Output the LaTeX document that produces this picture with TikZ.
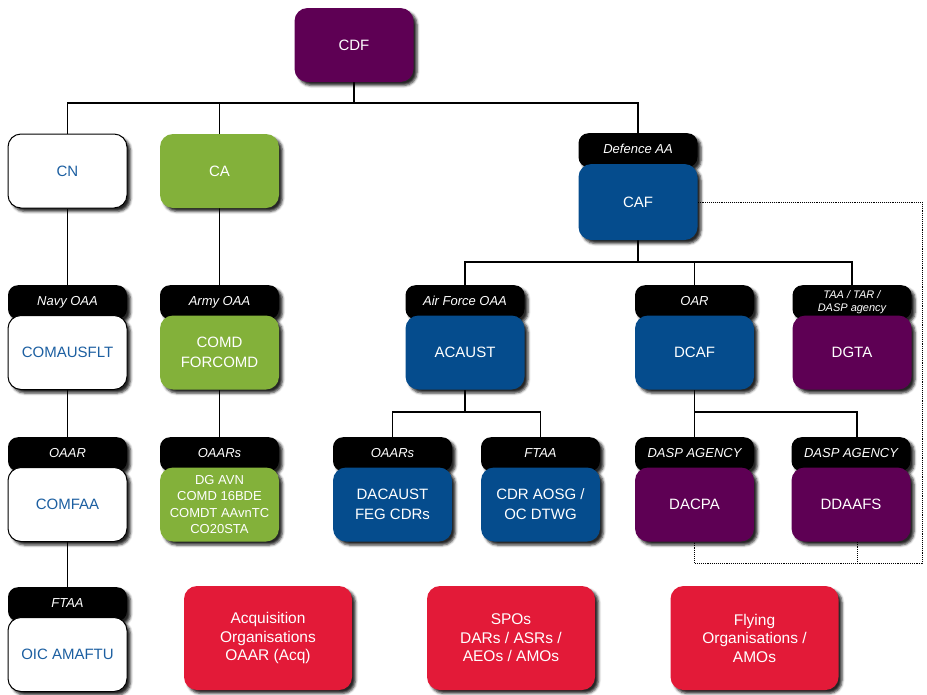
\documentclass[tikz,border=0pt]{standalone}
\usepackage{fontspec}
\setmainfont{Liberation Sans}
\usetikzlibrary{shadows.blur,backgrounds}
\definecolor{cdfpurple}{HTML}{5E0054}
\definecolor{rafblue}{HTML}{054C8D}
\definecolor{armygreen}{HTML}{83B13A}
\definecolor{acqred}{HTML}{E31A38}
\definecolor{navytext}{HTML}{1C5FA1}
\tikzset{
    orgbox/.style={
        rounded corners=13pt,
        minimum width=119pt,
        minimum height=74pt,
        align=center,
        text=white,
        font=\fontsize{15}{20}\selectfont,
        blur shadow={shadow xshift=3.5pt, shadow yshift=-3.5pt, shadow blur radius=2.5pt, shadow opacity=85}
    },
    purplebox/.style={orgbox, fill=cdfpurple},
    bluebox/.style={orgbox, fill=rafblue},
    greenbox/.style={orgbox, fill=armygreen},
    whitebox/.style={orgbox, fill=white, draw=black, line width=1pt, text=navytext},
    redbox/.style={orgbox, fill=acqred, minimum width=168pt, minimum height=104pt, font=\fontsize{15.5}{18.5}\selectfont},
    tab/.style={
        anchor=north,
        rounded corners=10pt,
        fill=black,
        text=white,
        minimum width=119pt,
        minimum height=0pt,
        inner ysep=0pt,
        text height=20pt,
        text depth=14pt,
        align=center,
        font=\fontsize{13}{15}\selectfont\itshape,
        blur shadow={shadow xshift=3.5pt, shadow yshift=-3.5pt, shadow blur radius=2.5pt, shadow opacity=85}
    },
    smalltab/.style={font=\fontsize{11}{13}\selectfont\itshape, text height=26pt, text depth=8pt},
    orgline/.style={draw=black, line width=1.1pt},
    dotline/.style={draw=black, line width=0.9pt, densely dotted}
}

\begin{document}
\begin{tikzpicture}[x=1pt,y=-1pt]
\useasboundingbox (0,0) rectangle (927,694);

\node[purplebox] (cdf) at (354,45) {CDF};
\node[whitebox] (cn) at (67.5,171) {CN};
\node[greenbox] (ca) at (219.5,171) {CA};
\node[tab] (datab) at (638,133) {Defence AA};
\node[bluebox, minimum height=76pt] (caf) at (638,202) {CAF};

\node[tab] (navytab) at (67.5,285) {Navy OAA};
\node[whitebox] (comausflt) at (67.5,352.5) {COMAUSFLT};
\node[tab] (armytab) at (219.5,285) {Army OAA};
\node[greenbox] (forcomd) at (219.5,352.5) {COMD\\FORCOMD};
\node[tab] (aftab) at (465,285) {Air Force OAA};
\node[bluebox] (acaust) at (465,352.5) {ACAUST};
\node[tab] (oartab) at (694.5,285) {OAR};
\node[bluebox] (dcaf) at (694.5,352.5) {DCAF};
\node[tab, smalltab] (taatab) at (852,285) {TAA / TAR /\\DASP agency};
\node[purplebox] (dgta) at (852,352.5) {DGTA};

\node[tab] (oaartab) at (67.5,437) {OAAR};
\node[whitebox] (comfaa) at (67.5,504.5) {COMFAA};
\node[tab] (armyoaartab) at (219.5,437) {OAARs};
\node[greenbox, font=\fontsize{13}{16.3}\selectfont] (avn) at (219.5,504.5) {DG AVN\\COMD 16BDE\\COMDT AAvnTC\\CO20STA};
\node[tab] (afoaartab) at (392.5,437) {OAARs};
\node[bluebox] (dacaust) at (392.5,504.5) {DACAUST\\FEG CDRs};
\node[tab] (ftaatab) at (540.5,437) {FTAA};
\node[bluebox] (aosg) at (540.5,504.5) {CDR AOSG /\\OC DTWG};
\node[tab] (dacpatab) at (694.5,437) {DASP AGENCY};
\node[purplebox] (dacpa) at (694.5,504.5) {DACPA};
\node[tab] (ddaafstab) at (851,437) {DASP AGENCY};
\node[purplebox] (ddaafs) at (851,504.5) {DDAAFS};

\node[tab] (amaftutab) at (67.5,587) {FTAA};
\node[whitebox] (amaftu) at (67.5,654.5) {OIC AMAFTU};
\node[redbox] (acq) at (268,638) {Acquisition\\Organisations\\OAAR (Acq)};
\node[redbox] (spo) at (511,638) {SPOs\\DARs / ASRs /\\AEOs / AMOs};
\node[redbox] (flying) at (754.5,638) {Flying\\Organisations /\\AMOs};

\begin{scope}[on background layer]
\coordinate (topbus) at (354,103);
\draw[orgline] (cdf) -- (topbus);
\draw[orgline] (cn.north) |- (topbus) -| (datab.north);
\draw[orgline] (ca.north) -- (ca.north |- topbus);
\draw[orgline] (cn.south) -- (navytab.north);
\draw[orgline] (comausflt.south) -- (oaartab.north);
\draw[orgline] (comfaa.south) -- (amaftutab.north);
\draw[orgline] (ca.south) -- (armytab.north);
\draw[orgline] (forcomd.south) -- (armyoaartab.north);
\coordinate (cafbus) at (638,262);
\draw[orgline] (caf.south) -- (cafbus);
\draw[orgline] (aftab.north) |- (cafbus) -| (taatab.north);
\draw[orgline] (oartab.north) -- (oartab.north |- cafbus);
\coordinate (acaustbus) at (465,412);
\draw[orgline] (acaust.south) -- (acaustbus);
\draw[orgline] (afoaartab.north) |- (acaustbus) -| (ftaatab.north);
\coordinate (dcafbus) at (694.5,412);
\draw[orgline] (dcaf.south) -- (dcafbus);
\draw[orgline] (dacpatab.north) |- (dcafbus) -| ([xshift=6pt]ddaafstab.north);
\coordinate (ddcorner) at (922,563);
\draw[dotline] (caf.east) -| (ddcorner) -| (dacpa.south);
\draw[dotline] ([xshift=6pt]ddaafs.south) -- ([xshift=6pt]ddaafs.south |- ddcorner);
\end{scope}
\end{tikzpicture}
\end{document}
